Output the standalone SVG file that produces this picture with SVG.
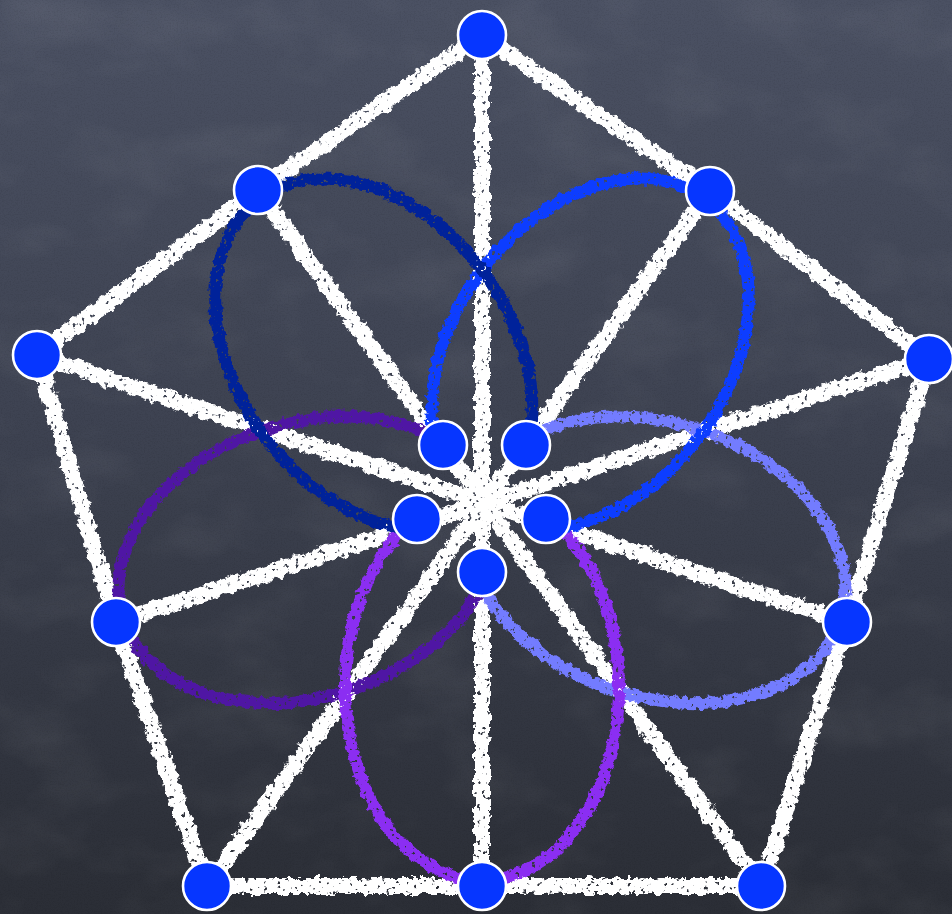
<svg xmlns="http://www.w3.org/2000/svg" width="952" height="914" viewBox="0 0 952 914">
  <defs>
    <linearGradient id="board" x1="0" y1="0" x2="0" y2="1">
      <stop offset="0" stop-color="#4b5163"/>
      <stop offset="0.45" stop-color="#3e4352"/>
      <stop offset="1" stop-color="#2b2e36"/>
    </linearGradient>
    <filter id="smudge" filterUnits="userSpaceOnUse" x="0" y="0" width="952" height="914">
      <feTurbulence type="fractalNoise" baseFrequency="0.01 0.016" numOctaves="4" seed="5"/>
      <feColorMatrix type="matrix" values="0 0 0 0 1  0 0 0 0 1  0 0 0 0 1  1.2 0 0 0 -0.55"/>
    </filter>
    <filter id="fine" filterUnits="userSpaceOnUse" x="0" y="0" width="952" height="914">
      <feTurbulence type="fractalNoise" baseFrequency="0.7" numOctaves="2" seed="11"/>
      <feColorMatrix type="matrix" values="0 0 0 0 0  0 0 0 0 0  0 0 0 0 0  1.2 0 0 0 -0.55"/>
    </filter>
    <filter id="chalk" filterUnits="userSpaceOnUse" x="0" y="0" width="952" height="914">
      <feTurbulence type="fractalNoise" baseFrequency="0.14" numOctaves="3" seed="4" result="warp"/>
      <feDisplacementMap in="SourceGraphic" in2="warp" scale="9" xChannelSelector="R" yChannelSelector="G" result="rough"/>
      <feTurbulence type="fractalNoise" baseFrequency="0.22" numOctaves="2" seed="9" result="grain"/>
      <feColorMatrix in="grain" type="matrix" values="0 0 0 0 1  0 0 0 0 1  0 0 0 0 1  -12 0 0 0 8.9" result="mask"/>
      <feComposite in="rough" in2="mask" operator="in"/>
    </filter>
    <filter id="chalk2" filterUnits="userSpaceOnUse" x="0" y="0" width="952" height="914">
      <feTurbulence type="fractalNoise" baseFrequency="0.16" numOctaves="3" seed="21" result="warp"/>
      <feDisplacementMap in="SourceGraphic" in2="warp" scale="7" xChannelSelector="R" yChannelSelector="G" result="rough"/>
      <feTurbulence type="fractalNoise" baseFrequency="0.25" numOctaves="2" seed="17" result="grain"/>
      <feColorMatrix in="grain" type="matrix" values="0 0 0 0 1  0 0 0 0 1  0 0 0 0 1  -12 0 0 0 9" result="mask"/>
      <feComposite in="rough" in2="mask" operator="in"/>
    </filter>
    <path id="arc" d="M -64 13.4 A 137 193 0 1 0 64 13.4"/>
  </defs>
  <style>
    .line { stroke: #ffffff; stroke-width: 16; stroke-linecap: round; fill: none; }
    .ring { fill: none; stroke-width: 12; stroke-linecap: round; }
    .node { fill: #0636ff; stroke: #ffffff; stroke-width: 2.6; }
  </style>

  <rect x="0" y="0" width="952" height="914" fill="url(#board)"/>
  <rect x="0" y="0" width="952" height="914" filter="url(#smudge)" opacity="0.1"/>
  <rect x="0" y="0" width="952" height="914" filter="url(#fine)" opacity="0.15"/>

  <g id="connectors" filter="url(#chalk)">
    <polyline class="line" points="482,35 710,191 929,359"/>
    <polyline class="line" points="929,359 847,622 761,886"/>
    <polyline class="line" points="761,886 482,886 207,886"/>
    <polyline class="line" points="207,886 116,622 37,355"/>
    <polyline class="line" points="37,355 258,190 482,35"/>
    <line class="line" x1="482" y1="35" x2="482" y2="886"/>
    <line class="line" x1="258" y1="190" x2="761" y2="886"/>
    <line class="line" x1="710" y1="191" x2="207" y2="886"/>
    <line class="line" x1="847" y1="622" x2="37" y2="355"/>
    <line class="line" x1="116" y1="622" x2="929" y2="359"/>
  </g>

  <g id="circles" filter="url(#chalk2)">
    <use id="ring-purple" href="#arc" class="ring" stroke="#5019a4" transform="translate(482 503) rotate(72)"/>
    <use id="ring-periwinkle" href="#arc" class="ring" stroke="#737bff" transform="translate(482 503) rotate(-72)"/>
    <use id="ring-violet" href="#arc" class="ring" stroke="#8b2ff2" transform="translate(482 503)"/>
    <use id="ring-blue" href="#arc" class="ring" stroke="#0a3cff" transform="translate(482 503) rotate(-144)"/>
    <use id="ring-navy" href="#arc" class="ring" stroke="#05209a" transform="translate(482 503) rotate(144)"/>
  </g>

  <g id="n-top"><circle class="node" cx="482" cy="35" r="24"/></g>
  <g id="n-upper-right"><circle class="node" cx="929" cy="359" r="24"/></g>
  <g id="n-lower-right"><circle class="node" cx="761" cy="886" r="24"/></g>
  <g id="n-lower-left"><circle class="node" cx="207" cy="886" r="24"/></g>
  <g id="n-upper-left"><circle class="node" cx="37" cy="355" r="24"/></g>
  <g id="m-upper-left"><circle class="node" cx="258" cy="190" r="24"/></g>
  <g id="m-upper-right"><circle class="node" cx="710" cy="191" r="24"/></g>
  <g id="m-right"><circle class="node" cx="847" cy="622" r="24"/></g>
  <g id="m-bottom"><circle class="node" cx="482" cy="886" r="24"/></g>
  <g id="m-left"><circle class="node" cx="116" cy="622" r="24"/></g>
  <g id="i-upper-left"><circle class="node" cx="443" cy="445" r="24"/></g>
  <g id="i-upper-right"><circle class="node" cx="526" cy="445" r="24"/></g>
  <g id="i-right"><circle class="node" cx="546" cy="519" r="24"/></g>
  <g id="i-bottom"><circle class="node" cx="482" cy="572" r="24"/></g>
  <g id="i-left"><circle class="node" cx="417" cy="519" r="24"/></g>
</svg>
